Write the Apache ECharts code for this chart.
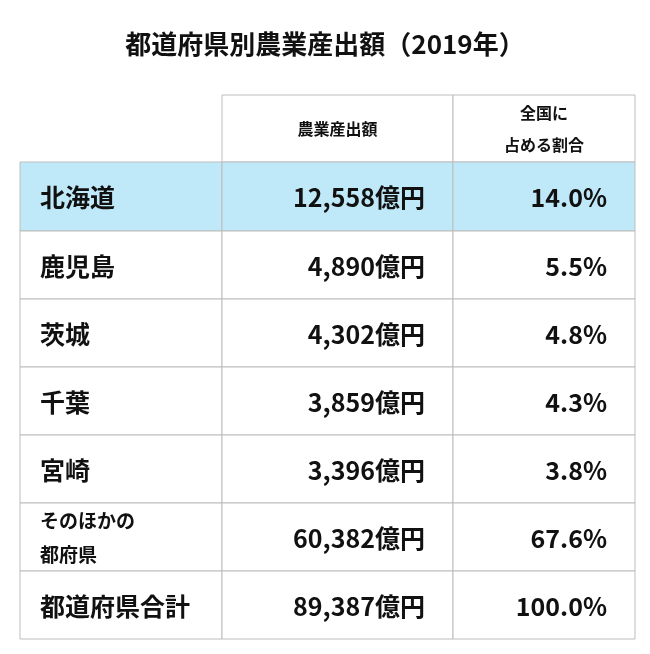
<!DOCTYPE html>
<html><head><meta charset="utf-8">
<script src="https://cdn.jsdelivr.net/npm/echarts@6/dist/echarts.min.js"></script>
<style>html,body{margin:0;padding:0;background:#fff}#c{width:650px;height:654px}</style>
</head><body><div id="c"></div>
<script>
const title = '都道府県別農業産出額（2019年）';
const headers = ['', '農業産出額', '全国に\n占める割合'];
const prefectures = ['北海道', '鹿児島', '茨城', '千葉', '宮崎', 'そのほかの\n都府県', '都道府県合計'];
const outputs = ['12,558億円', '4,890億円', '4,302億円', '3,859億円', '3,396億円', '60,382億円', '89,387億円'];
const shares = ['14.0%', '5.5%', '4.8%', '4.3%', '3.8%', '67.6%', '100.0%'];

// layout
const colEdges = [0, 202, 433, 615];
const rowEdges = [0, 67, 136, 204, 272, 340, 408, 476, 544];
const font = '"Noto Sans CJK JP","Noto Sans",sans-serif';

const data = [];
for (let c = 0; c < 3; c++) data.push([c, 0, headers[c]]);
for (let r = 0; r < prefectures.length; r++) {
  data.push([0, r + 1, prefectures[r]]);
  data.push([1, r + 1, outputs[r]]);
  data.push([2, r + 1, shares[r]]);
}

const chart = echarts.init(document.getElementById('c'));
chart.setOption({
  backgroundColor: '#fff',
  title: { text: title, left: 'center', top: 26, textStyle: { fontFamily: font, fontSize: 26, fontWeight: 'bold', color: '#111' } },
  grid: { left: 20, top: 95, width: 615, height: 544 },
  xAxis: { type: 'value', min: 0, max: 615, show: false },
  yAxis: { type: 'value', min: 0, max: 544, inverse: true, show: false },
  series: [{
    type: 'custom',
    data: data,
    renderItem: function (params, api) {
      const c = api.value(0), r = api.value(1), txt = data[params.dataIndex][2];
      const p0 = api.coord([colEdges[c], rowEdges[r]]);
      const p1 = api.coord([colEdges[c + 1], rowEdges[r + 1]]);
      const w = p1[0] - p0[0], h = p1[1] - p0[1];
      const children = [];
      const header = r === 0;
      if (!(header && c === 0)) {
        children.push({ type: 'rect', shape: { x: p0[0], y: p0[1], width: w, height: h },
          style: { fill: r === 1 ? '#bfe9f8' : '#fff', stroke: '#bdbdbd', lineWidth: 1 } });
      }
      let x, align;
      if (c === 0) { x = p0[0] + 20; align = 'left'; }
      else if (header) { x = p0[0] + w / 2; align = 'center'; }
      else { x = p1[0] - 28; align = 'right'; }
      const small = header || txt.indexOf('\n') >= 0;
      children.push({ type: 'text', style: {
        text: txt, x: x, y: p0[1] + h / 2 + (header ? 0 : 1), align: align, verticalAlign: 'middle',
        fontFamily: font, fontWeight: 'bold', fontSize: header ? 16 : (small ? 19 : 25),
        lineHeight: header ? 32 : (small ? 34 : 30), fill: '#111' } });
      return { type: 'group', children: children };
    }
  }]
});
</script></body></html>
